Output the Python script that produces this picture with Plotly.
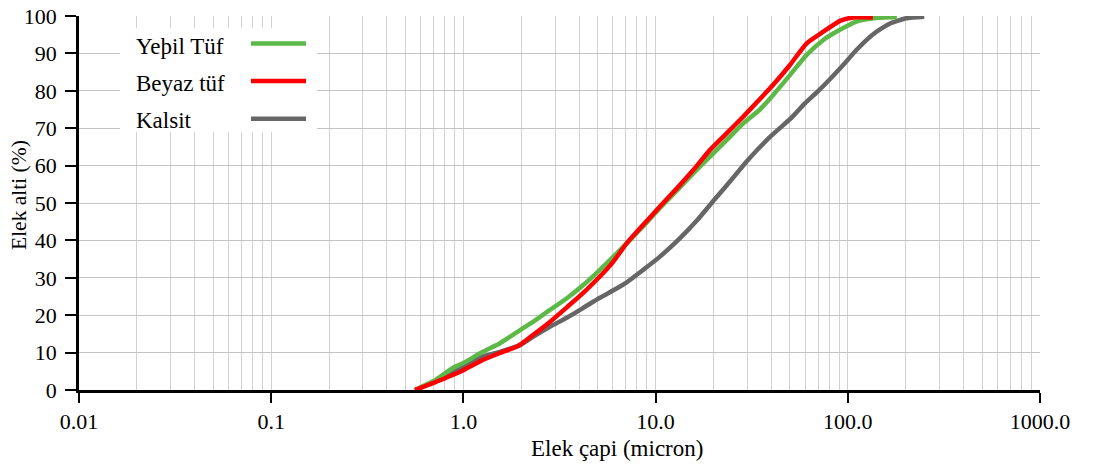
import plotly.graph_objects as go

# Cumulative passing (%) versus sieve size (micron), three samples
kalsit_x = [0.56, 0.70, 0.88, 1.0, 1.26, 1.55, 1.97, 2.3, 2.82, 3.47, 4.19, 5.1, 6.3, 7.07,
            8.6, 10.5, 13.4, 16.4, 20, 25, 30, 40, 50, 60, 70, 80, 90, 100, 110.8,
            136, 165.6, 202, 250]
kalsit_y = [0, 2.2, 4.8, 6.2, 8.9, 10.2, 12.0, 14.2, 16.9, 19.4, 21.9, 24.6, 27.2, 28.8,
            32.1, 35.6, 40.6, 45.3, 50.6, 56.4, 61.3, 68.0, 72.4, 76.7, 79.9, 82.9, 85.7, 88.3,
            90.9, 95.2, 98.0, 99.4, 99.8]

yesil_x = [0.56, 0.70, 0.88, 1.0, 1.26, 1.55, 1.97, 2.3, 2.82, 3.47, 4.19, 5.1, 5.8, 7.07,
           8.6, 10.5, 12.9, 15.7, 19.2, 23.4, 28.6, 34.9, 40.9, 50, 61.1, 74.6, 91, 110.8,
           136, 180]
yesil_y = [0, 2.4, 5.9, 7.2, 10.2, 12.5, 16.0, 18.2, 21.4, 24.6, 28.0, 32.0, 34.8, 39.2,
           43.7, 48.6, 53.3, 57.9, 62.4, 66.8, 71.3, 75.0, 78.9, 84.2, 89.6, 93.6, 96.3, 98.5,
           99.4, 99.7]

beyaz_x = [0.56, 0.70, 0.88, 1.0, 1.26, 1.55, 1.93, 2.3, 2.82, 3.47, 4.19, 5.1, 6.0, 7.07,
           8.6, 10.5, 12.9, 15.7, 19.2, 23.4, 28.6, 34.9, 40.9, 50, 61.1, 74.6, 91, 107, 135]
beyaz_y = [0, 1.9, 4.0, 5.3, 8.0, 9.9, 11.8, 14.7, 18.2, 22.2, 25.9, 30.2, 34.2, 39.2,
           44.1, 49.0, 53.9, 58.8, 64.2, 68.6, 73.1, 77.8, 81.6, 86.9, 92.7, 95.8, 98.7, 99.6,
           99.6]

series_names = ["Yeþil Tüf", "Beyaz tüf", "Kalsit"]
series_colors = ["#5cb947", "#ff0000", "#666666"]

x_tickvals = [0.01, 0.1, 1, 10, 100, 1000]
x_ticktext = ["0.01", "0.1", "1.0", "10.0", "100.0", "1000.0"]
y_tickvals = list(range(0, 101, 10))

x_title = "Elek çapi (micron)"
y_title = "Elek alti (%)"

FONT = "Liberation Serif"
LW = 4.5

fig = go.Figure()
# draw order: gray underneath, red on top
for xs, ys, i in [(kalsit_x, kalsit_y, 2), (yesil_x, yesil_y, 0), (beyaz_x, beyaz_y, 1)]:
    fig.add_trace(go.Scatter(x=xs, y=ys, mode="lines", name=series_names[i],
                             line=dict(color=series_colors[i], width=LW, shape="spline",
                                       smoothing=0.5),
                             showlegend=False))

minor_vals = [m * 10 ** e for e in range(-2, 3) for m in range(2, 10)]

fig.update_xaxes(type="log", range=[-2, 3], tickvals=x_tickvals, ticktext=x_ticktext,
                 showgrid=True, gridcolor="#d2d2d2", gridwidth=1,
                 minor=dict(tickvals=minor_vals, showgrid=True, gridcolor="#d2d2d2",
                            gridwidth=1, ticks=""),
                 showline=True, linecolor="black", linewidth=2.5,
                 ticks="outside", ticklen=10, tickwidth=2, tickcolor="black",
                 zeroline=False, layer="below traces",
                 tickfont=dict(family=FONT, size=22, color="black"))
fig.update_yaxes(range=[0, 100], tickvals=y_tickvals,
                 showgrid=True, gridcolor="#c4c4c4", gridwidth=1,
                 showline=True, linecolor="black", linewidth=2.5,
                 ticks="outside", ticklen=11, tickwidth=2, tickcolor="black",
                 ticklabelstandoff=4,
                 zeroline=False, layer="below traces",
                 tickfont=dict(family=FONT, size=22, color="black"))

# pixel -> paper helpers for the plot area
px0, px1, py0, py1 = 79, 1040, 16, 390
def fx(p):
    return (p - px0) / (px1 - px0)
def fy(p):
    return (py1 - p) / (py1 - py0)

annotations = [
    dict(xref="paper", yref="paper", x=fx(617), y=fy(448), text=x_title, showarrow=False,
         xanchor="center", yanchor="middle", font=dict(family=FONT, size=23, color="black")),
    dict(xref="paper", yref="paper", x=fx(19), y=fy(195), text=y_title, showarrow=False,
         textangle=-90, xanchor="center", yanchor="middle",
         font=dict(family=FONT, size=21.5, color="black")),
]

# legend panel: text on the left, line sample on the right
shapes = [dict(type="rect", xref="paper", yref="paper", x0=fx(120), x1=fx(317),
               y0=fy(132), y1=fy(28), fillcolor="white", line=dict(width=0), layer="above")]
row_line_y = [43.5, 81, 118.7]
row_text_y = [46, 83, 120]
for i, name in enumerate(series_names):
    shapes.append(dict(type="line", xref="paper", yref="paper", x0=fx(251), x1=fx(306),
                       y0=fy(row_line_y[i]), y1=fy(row_line_y[i]),
                       line=dict(color=series_colors[i], width=LW), layer="above"))
    annotations.append(dict(xref="paper", yref="paper", x=fx(134), y=fy(row_text_y[i]),
                            text=name, showarrow=False, xanchor="left", yanchor="middle",
                            font=dict(family=FONT, size=23, color="black")))

fig.update_layout(width=1098, height=465,
                  margin=dict(l=79, r=58, t=16, b=75, autoexpand=False),
                  plot_bgcolor="white", paper_bgcolor="white",
                  shapes=shapes, annotations=annotations, showlegend=False)

fig.write_html("out.html")
